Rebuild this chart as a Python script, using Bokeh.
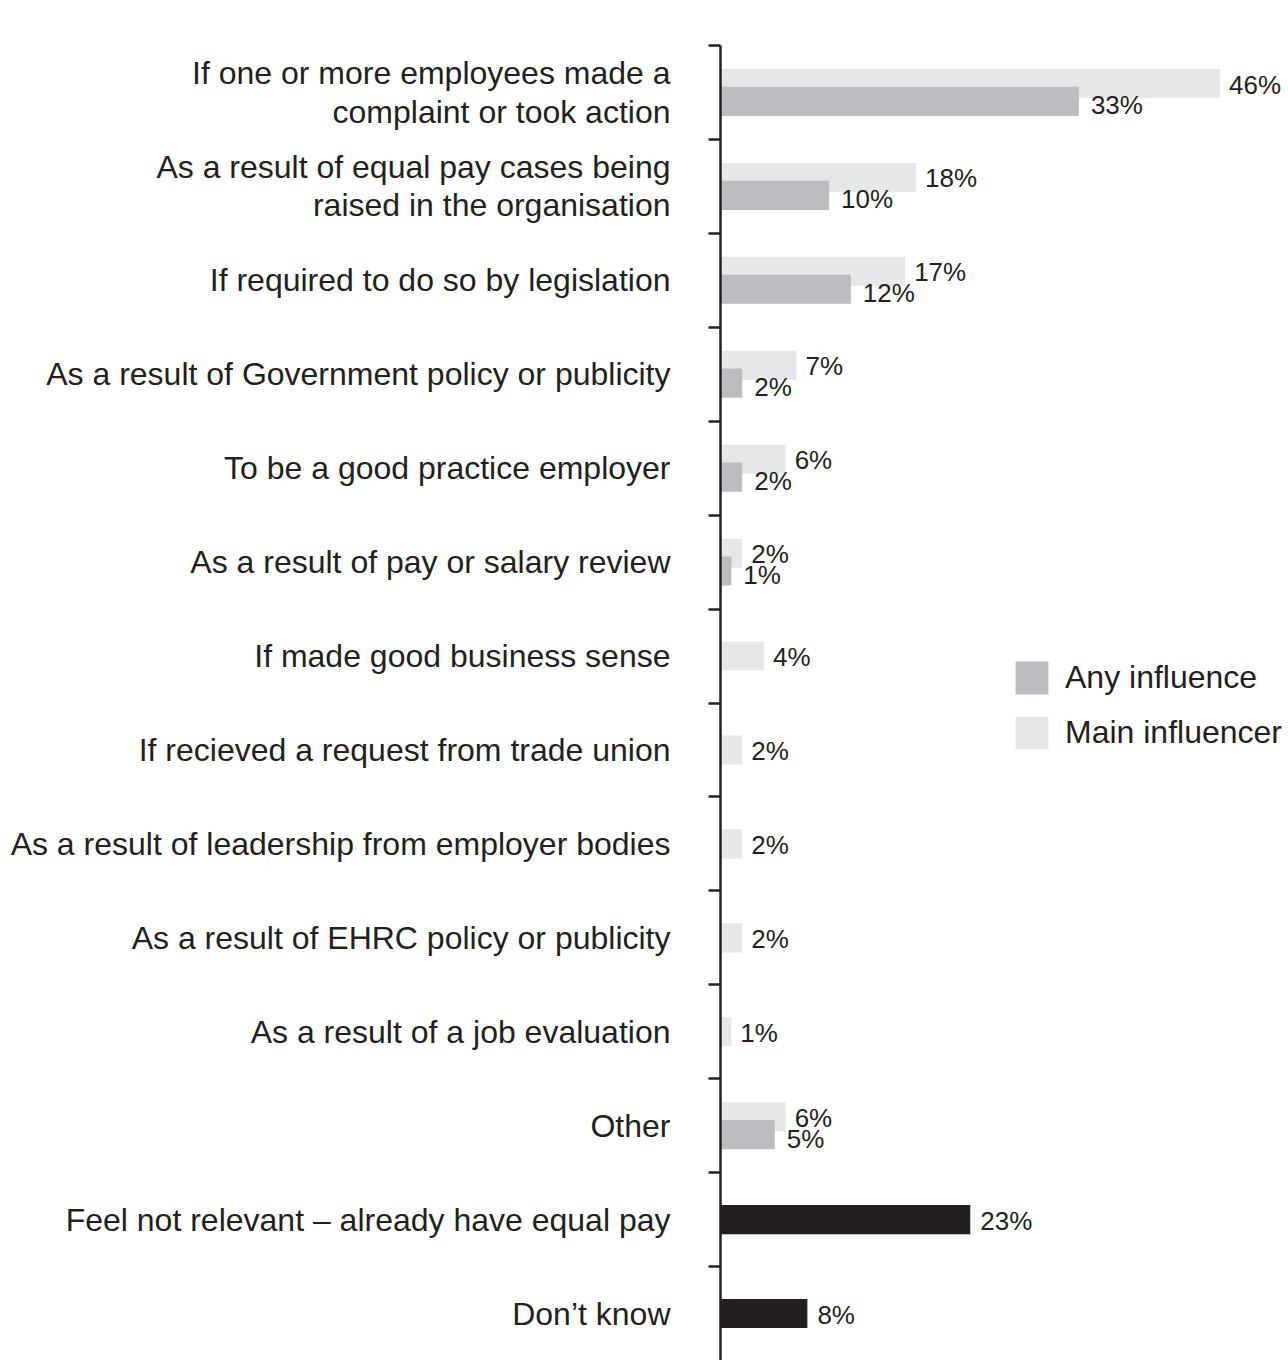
from bokeh.plotting import figure
from bokeh.models import ColumnDataSource, Range1d, FixedTicker, Legend, LegendItem
from bokeh.embed import file_html
from bokeh.resources import INLINE
from bokeh.core.properties import value

# ---------------- data ----------------
categories = [
    "If one or more employees made a\ncomplaint or took action",
    "As a result of equal pay cases being\nraised in the organisation",
    "If required to do so by legislation",
    "As a result of Government policy or publicity",
    "To be a good practice employer",
    "As a result of pay or salary review",
    "If made good business sense",
    "If recieved a request from trade union",
    "As a result of leadership from employer bodies",
    "As a result of EHRC policy or publicity",
    "As a result of a job evaluation",
    "Other",
    "Feel not relevant \u2013 already have equal pay",
    "Don\u2019t know",
]
any_influence = [33, 10, 12, 2, 2, 1, None, None, None, None, None, 5, None, None]
main_influencer = [46, 18, 17, 7, 6, 2, 4, 2, 2, 2, 1, 6, None, None]
no_action = [None] * 12 + [23, 8]

# ---------------- styling ----------------
INK = "#231f20"
LIGHT = "#e6e7e8"
DARK = "#bcbdc0"
FONT = "Liberation Sans"

n = len(categories)
idx = list(range(n))
BAR_H = 0.31
DODGE = 0.095

p = figure(width=1288, height=1360, output_backend="svg", toolbar_location=None,
           x_range=Range1d(0, 52.3), y_range=Range1d(n - 0.5, -0.5),
           x_axis_location=None, min_border_left=720, min_border_top=45,
           min_border_bottom=0, min_border_right=0)
p.outline_line_color = None
p.grid.grid_line_color = None
p.background_fill_color = "white"

ax = p.yaxis[0]
ax.ticker = FixedTicker(ticks=idx, minor_ticks=[i - 0.5 for i in idx])
ax.major_label_overrides = {i: c for i, c in enumerate(categories)}
ax.major_tick_line_color = None
ax.major_tick_out = 0
ax.major_tick_in = 0
ax.minor_tick_out = 12
ax.minor_tick_in = 0
ax.minor_tick_line_width = 2.5
ax.minor_tick_line_color = INK
ax.axis_line_width = 2.5
ax.axis_line_color = INK
ax.major_label_standoff = 38
ax.major_label_text_font = FONT
ax.major_label_text_font_size = "32px"
ax.major_label_text_color = INK
ax.major_label_text_line_height = 1.06


def series(vals, offsets):
    ys, vs, labs = [], [], []
    for i, v in enumerate(vals):
        if v is None:
            continue
        ys.append(i + offsets[i])
        vs.append(v)
        labs.append(f"{v}%")
    return ColumnDataSource(dict(y=ys, v=vs, lab=labs))


main_off = [-DODGE if a is not None else 0.0 for a in any_influence]
any_off = [DODGE] * n
zero_off = [0.0] * n

src_main = series(main_influencer, main_off)
src_any = series(any_influence, any_off)
src_none = series(no_action, zero_off)

r_main = p.hbar(y="y", left=0, right="v", height=BAR_H, source=src_main,
                fill_color=LIGHT, line_color=None)
r_any = p.hbar(y="y", left=0, right="v", height=BAR_H, source=src_any,
               fill_color=DARK, line_color=None)
r_none = p.hbar(y="y", left=0, right="v", height=BAR_H, source=src_none,
                fill_color=INK, line_color=None)

txt = dict(text_font=value(FONT), text_font_size="26px", text_color=INK,
           text_baseline="middle", text_align="left")
p.text(x="v", y="y", text="lab", source=src_main, x_offset=9, y_offset=1, **txt)
p.text(x="v", y="y", text="lab", source=src_any, x_offset=12, y_offset=4, **txt)
p.text(x="v", y="y", text="lab", source=src_none, x_offset=10, y_offset=1, **txt)

legend = Legend(items=[LegendItem(label="Any influence", renderers=[r_any]),
                       LegendItem(label="Main influencer", renderers=[r_main])],
                location=(291, 607), orientation="vertical",
                glyph_width=41, glyph_height=41, spacing=14, padding=0, margin=0,
                label_standoff=13, label_text_font=FONT, label_text_font_size="32px",
                label_text_color=INK, border_line_color=None, background_fill_alpha=0)
p.add_layout(legend)

open("out.html", "w").write(file_html(p, INLINE))
